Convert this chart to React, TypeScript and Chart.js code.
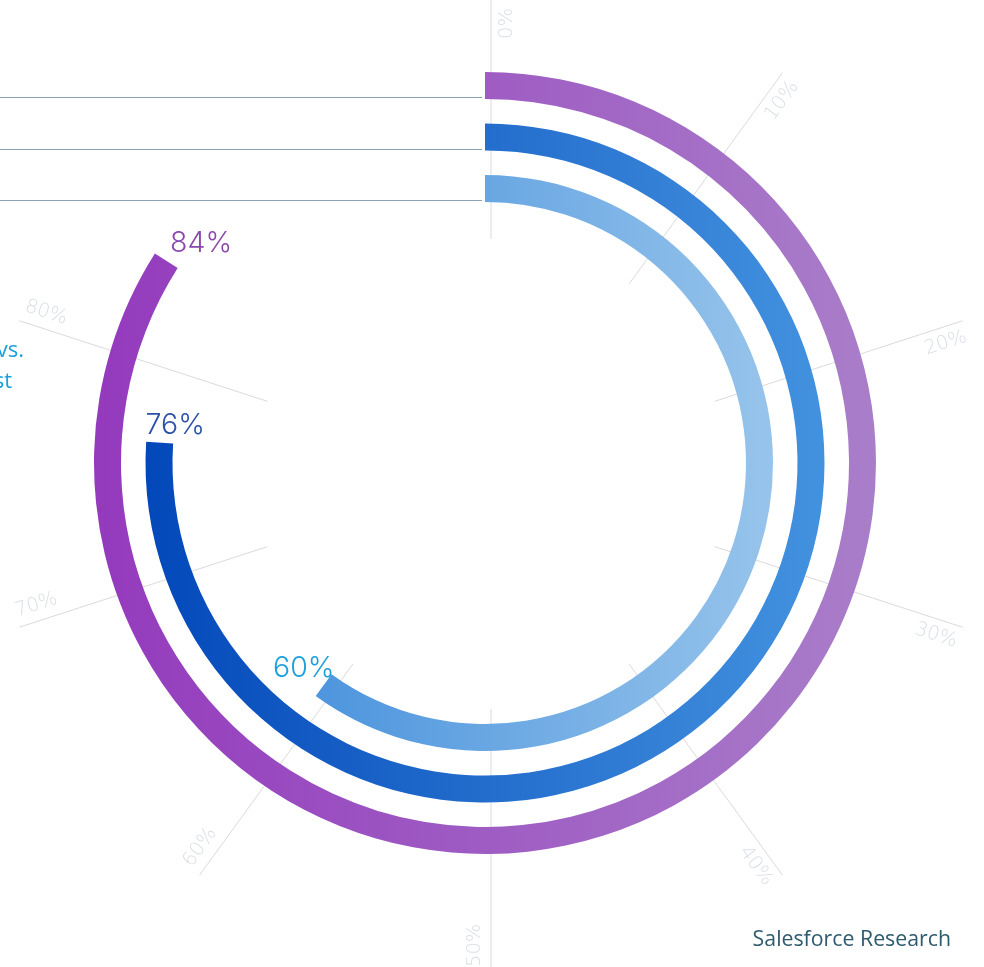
import React, { useEffect, useRef } from 'react';
import { Chart, registerables } from 'chart.js';

Chart.register(...registerables);

// ---- data ----
const seriesNames = ['Ring A', 'Ring B', 'Ring C'];
const seriesValues = [84, 76, 60];
const valueLabels = ['84%', '76%', '60%'];
const valueColors = ['#8B48AE', '#2A52A9', '#1BA0DC'];
const gradientLeft = ['#943ABD', '#0348BA', '#3A89DA'];
const gradientRight = ['#A97EC9', '#4392DF', '#97C4EB'];
const scaleMax = 100;
const tickValues = [0, 10, 20, 30, 40, 50, 60, 70, 80];
const tickLabels = tickValues.map((v) => v + '%');
const sideTextLines = ['vs.', 'st'];
const sourceText = 'Salesforce Research';

const W = 984;
const H = 967;

const deg = Math.PI / 180;

const decorPlugin = {
  id: 'decor',
  beforeDatasetsDraw(chart: any) {
    const ctx = chart.ctx;
    const arc0 = chart.getDatasetMeta(0).data[0];
    if (!arc0) return;
    const cx = arc0.x;
    const cy = arc0.y;
    const gx = cx + 6;
    const gy = cy + 11;
    ctx.save();
    // radial grid lines
    ctx.strokeStyle = '#dadada';
    ctx.lineWidth = 1;
    tickValues.forEach((v) => {
      const phi = (v / scaleMax) * 2 * Math.PI - Math.PI / 2;
      const ux = Math.cos(phi);
      const uy = Math.sin(phi);
      ctx.beginPath();
      ctx.moveTo(gx + ux * 235, gy + uy * 235);
      ctx.lineTo(gx + ux * 496, gy + uy * 496);
      ctx.stroke();
    });
    // leader lines from ring starts
    ctx.strokeStyle = '#8CA1B6';
    ctx.lineWidth = 1.2;
    chart.data.datasets.forEach((ds: any, i: number) => {
      if (ds.isSpacer) return;
      const ctrl: any = chart.getDatasetMeta(i).controller;
      const y = Math.round(cy - ctrl.innerRadius - 2) + 0.5;
      ctx.beginPath();
      ctx.moveTo(0, y);
      ctx.lineTo(cx - 3, y);
      ctx.stroke();
    });
    // tick labels
    ctx.fillStyle = '#d8dee6';
    ctx.font = '200 19.5px "DejaVu Sans"';
    ctx.textAlign = 'center';
    ctx.textBaseline = 'middle';
    tickValues.forEach((v, k) => {
      const theta = (v / scaleMax) * 360;
      const phi = theta * deg - Math.PI / 2;
      const ux = Math.cos(phi);
      const uy = Math.sin(phi);
      const tx = -uy;
      const ty = ux;
      const rl = 473;
      const off = 16;
      let px = gx + ux * rl + tx * off;
      let py = gy + uy * rl + ty * off;
      const rot = theta >= 180 ? phi + Math.PI : phi;
      const w = ctx.measureText(tickLabels[k]).width;
      const hy = Math.abs(Math.sin(rot)) * w / 2 + Math.abs(Math.cos(rot)) * 9.5;
      if (py - hy < 8) py = 8 + hy;
      if (py + hy > H) py = H - hy;
      ctx.save();
      ctx.translate(px, py);
      ctx.rotate(rot);
      ctx.fillText(tickLabels[k], 0, 0);
      ctx.restore();
    });
    ctx.restore();
  },
  afterDatasetsDraw(chart: any) {
    const ctx = chart.ctx;
    ctx.save();
    // value labels near ring ends
    ctx.font = '350 28.5px Inter';
    ctx.textAlign = 'center';
    ctx.textBaseline = 'alphabetic';
    let s = 0;
    chart.data.datasets.forEach((ds: any, i: number) => {
      if (ds.isSpacer) return;
      const arc: any = chart.getDatasetMeta(i).data[0];
      const mid = (arc.innerRadius + arc.outerRadius) / 2;
      const a = arc.endAngle;
      const ex = arc.x + Math.cos(a) * mid;
      const ey = arc.y + Math.sin(a) * mid;
      const tX = -Math.sin(a);
      const px = ex + 13 + 40.7 * tX;
      const py = ey - 18.5;
      const m = ctx.measureText(valueLabels[s]);
      const yb = py + (m.actualBoundingBoxAscent - m.actualBoundingBoxDescent) / 2;
      ctx.fillStyle = valueColors[s];
      ctx.fillText(valueLabels[s], px, yb);
      s++;
    });
    // clipped side text
    ctx.fillStyle = '#1BA0DB';
    ctx.font = '22px "Open Sans"';
    ctx.textAlign = 'right';
    ctx.fillText(sideTextLines[0], 24, 357);
    ctx.fillText(sideTextLines[1], 12, 388);
    // source
    ctx.fillStyle = '#2E5A6E';
    ctx.font = '21.3px "Open Sans"';
    ctx.fillText(sourceText, 951, 946);
    ctx.restore();
  },
};

export default function App() {
  const ref = useRef<HTMLCanvasElement | null>(null);
  useEffect(() => {
    if (!ref.current) return;
    const ringWeight = 27;
    const gapWeight = 24.5;
    const datasets: any[] = [];
    seriesValues.forEach((v, i) => {
      if (i > 0) {
        datasets.push({
          label: 'gap' + i,
          data: [scaleMax],
          backgroundColor: 'rgba(0,0,0,0)',
          borderWidth: 0,
          weight: gapWeight,
          isSpacer: true,
        });
      }
      datasets.push({
        label: seriesNames[i],
        data: [v, scaleMax - v],
        borderWidth: 0,
        weight: ringWeight,
        backgroundColor: (c: any) => {
          if (c.dataIndex !== 0) return 'rgba(0,0,0,0)';
          const chart = c.chart;
          const area = chart.chartArea;
          if (!area) return gradientLeft[i];
          const ctrl: any = chart.getDatasetMeta(c.datasetIndex).controller;
          const R = ctrl.outerRadius || 300;
          const cx = (area.left + area.right) / 2;
          const g = chart.ctx.createLinearGradient(cx - R, 0, cx + R, 0);
          g.addColorStop(0, gradientLeft[i]);
          g.addColorStop(1, gradientRight[i]);
          return g;
        },
      });
    });
    const chart = new Chart(ref.current, {
      type: 'doughnut',
      data: { labels: ['value', 'rest'], datasets },
      options: {
        animation: false,
        responsive: false,
        devicePixelRatio: 1,
        events: [],
        radius: 391,
        cutout: (261 / 391) * 100 + '%',
        layout: { padding: { left: 0, right: 14, top: 0, bottom: 41 } },
        plugins: {
          legend: { display: false },
          tooltip: { enabled: false },
          title: { display: false },
        },
      } as any,
      plugins: [decorPlugin],
    });
    return () => chart.destroy();
  }, []);
  return (
    <div style={{ position: 'absolute', left: 0, top: 0, width: W, height: H, overflow: 'hidden', background: '#fff' }}>
      <canvas ref={ref} width={W} height={H} style={{ display: 'block', width: W, height: H }} />
    </div>
  );
}
